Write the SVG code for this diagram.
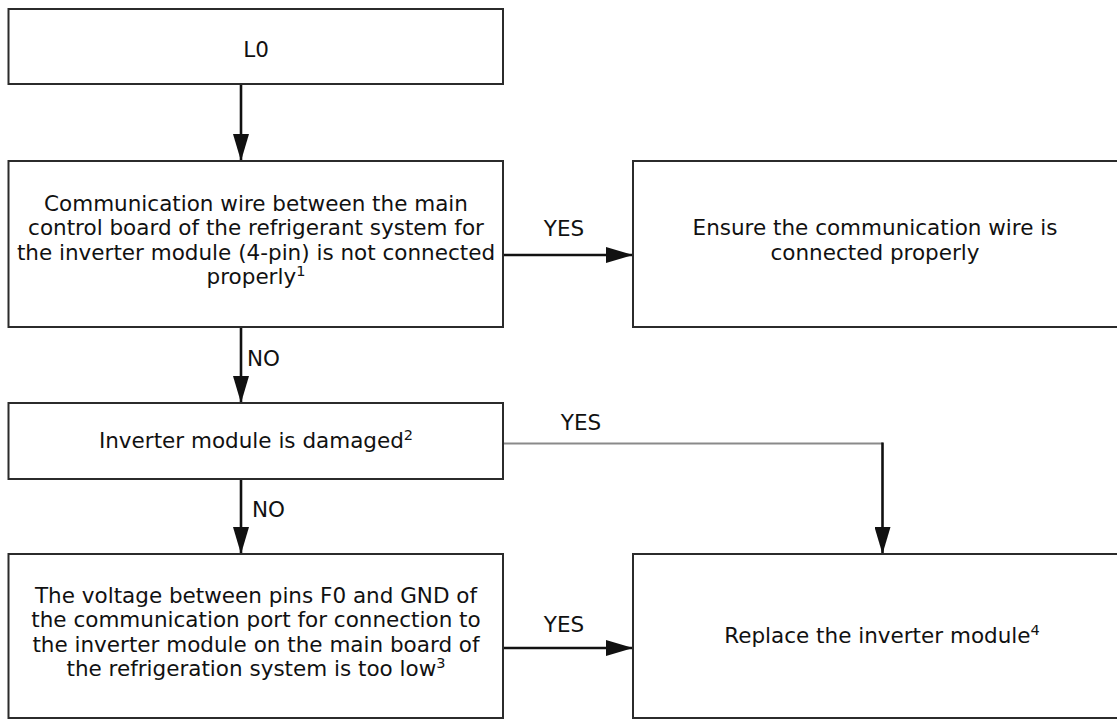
<svg xmlns="http://www.w3.org/2000/svg" width="1117" height="720" viewBox="0 0 1117 720">
  <defs>
    <style>
      .box { fill: #ffffff; stroke: #2b2b2b; stroke-width: 2; }
      .txt { font-family: "DejaVu Sans", "Liberation Sans", sans-serif; font-size: 21.5px; fill: #111; text-anchor: middle; }
      .lbl { font-family: "DejaVu Sans", "Liberation Sans", sans-serif; font-size: 21.5px; fill: #111; }
      .sup { font-size: 14.5px; }
      .conn { fill: none; stroke: #111; stroke-width: 2.6; }
      .thin { fill: none; stroke: #8a8a8a; stroke-width: 1.8; }
    </style>
    <marker id="arrow" viewBox="0 0 27 16" refX="27" refY="8" markerWidth="27" markerHeight="16" markerUnits="userSpaceOnUse" orient="auto">
      <path d="M0,0 L27,8 L0,16 z" fill="#111"/>
    </marker>
  </defs>
  <rect x="0" y="0" width="1117" height="720" fill="#ffffff"/>

  <g id="connectors">
    <path class="conn" d="M241,84 V161" marker-end="url(#arrow)"/>
    <path class="conn" d="M503,255 H633" marker-end="url(#arrow)"/>
    <path class="conn" d="M241,327 V403" marker-end="url(#arrow)"/>
    <path class="thin" d="M503,443.5 H883"/>
    <path class="conn" d="M882.5,442.5 V554" marker-end="url(#arrow)"/>
    <path class="conn" d="M241,479 V554" marker-end="url(#arrow)"/>
    <path class="conn" d="M503,648 H633" marker-end="url(#arrow)"/>
    <text class="lbl" x="564" y="236" text-anchor="middle">YES</text>
    <text class="lbl" x="247" y="366">NO</text>
    <text class="lbl" x="581" y="430" text-anchor="middle">YES</text>
    <text class="lbl" x="252" y="517">NO</text>
    <text class="lbl" x="564" y="632" text-anchor="middle">YES</text>
  </g>

  <g id="node-l0">
    <rect class="box" x="8.5" y="9" width="494.5" height="75"/>
    <text class="txt" x="256" y="57">L0</text>
  </g>

  <g id="node-comm-wire">
    <rect class="box" x="8.5" y="161" width="494.5" height="166"/>
    <text class="txt" x="256" y="211">Communication wire between the main</text>
    <text class="txt" x="256" y="235.3">control board of the refrigerant system for</text>
    <text class="txt" x="256" y="259.6">the inverter module (4-pin) is not connected</text>
    <text class="txt" x="256" y="284">properly<tspan class="sup" dy="-8">1</tspan></text>
  </g>

  <g id="node-ensure">
    <rect class="box" x="633" y="161" width="490" height="166"/>
    <text class="txt" x="875" y="234.5">Ensure the communication wire is</text>
    <text class="txt" x="875" y="260">connected properly</text>
  </g>

  <g id="node-damaged">
    <rect class="box" x="8.5" y="403" width="494.5" height="76"/>
    <text class="txt" x="256" y="448">Inverter module is damaged<tspan class="sup" dy="-8">2</tspan></text>
  </g>

  <g id="node-voltage">
    <rect class="box" x="8.5" y="554" width="494.5" height="164"/>
    <text class="txt" x="256" y="603">The voltage between pins F0 and GND of</text>
    <text class="txt" x="256" y="627.3">the communication port for connection to</text>
    <text class="txt" x="256" y="651.6">the inverter module on the main board of</text>
    <text class="txt" x="256" y="676">the refrigeration system is too low<tspan class="sup" dy="-8">3</tspan></text>
  </g>

  <g id="node-replace">
    <rect class="box" x="633" y="554" width="500" height="164"/>
    <text class="txt" x="882" y="643">Replace the inverter module<tspan class="sup" dy="-8">4</tspan></text>
  </g>
</svg>
